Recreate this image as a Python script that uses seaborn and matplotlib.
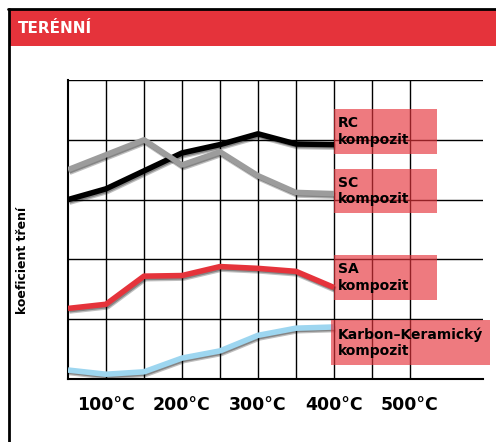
import numpy as np
import pandas as pd
import matplotlib
matplotlib.use("Agg")
import matplotlib.pyplot as plt
import matplotlib.patheffects as pe
from matplotlib.patches import Rectangle
from matplotlib.lines import Line2D
import seaborn as sns

# ---------------- data ----------------
temperature = [50, 100, 150, 200, 250, 300, 350, 400]
rc_values = [3.00, 3.18, 3.48, 3.78, 3.92, 4.10, 3.93, 3.92]
sc_values = [3.50, 3.75, 4.00, 3.58, 3.80, 3.40, 3.12, 3.10]
sa_values = [1.18, 1.25, 1.72, 1.73, 1.88, 1.85, 1.80, 1.53]
kk_values = [0.15, 0.08, 0.12, 0.35, 0.47, 0.73, 0.85, 0.87]
series_names = ["RC\nkompozit", "SC\nkompozit", "SA\nkompozit", "Karbon–Keramický\nkompozit"]
series_colors = ["#000000", "#9c9c9c", "#e5333b", "#9dd6f0"]
tick_labels = ["100°C", "200°C", "300°C", "400°C", "500°C"]
title = "TERÉNNÍ"
ylabel = "koeficient tření"

# --------------- layout ---------------
W, H = 496, 442
label_box_bottom = [3.77, 2.77, 1.32, 0.23]   # data units
label_box_height = 0.75
label_box_left = [400, 400, 400, 396]
label_box_right = [536, 536, 536, 605]

df = pd.DataFrame({
    "temp": temperature * 4,
    "value": rc_values + sc_values + sa_values + kk_values,
    "series": sum([[n] * len(temperature) for n in series_names], []),
})

sns.set_style("white")
plt.rcParams["font.family"] = ["DejaVu Sans"]
plt.rcParams["text.color"] = "black"
plt.rcParams["xtick.color"] = "black"
plt.rcParams["axes.labelcolor"] = "black"

fig = plt.figure(figsize=(W / 100, H / 100), dpi=100)
ax = fig.add_axes([68 / W, (H - 379) / H, (483 - 68) / W, (379 - 80) / H])

sns.lineplot(data=df, x="temp", y="value", hue="series", palette=series_colors,
             hue_order=series_names, sort=False, lw=4, legend=False, ax=ax,
             zorder=3)
for line in ax.get_lines():
    line.set_solid_capstyle("butt")
    line.set_solid_joinstyle("round")
    line.set_path_effects([
        pe.SimpleLineShadow(offset=(1.0, -1.6), shadow_color="black", alpha=0.25, linewidth=4.5),
        pe.SimpleLineShadow(offset=(0.8, -1.2), shadow_color="black", alpha=0.3, linewidth=3.5),
        pe.Normal()])

ax.set_xlim(50, 50 + (483 - 68) / 38 * 50)
ax.set_ylim(0, 5)
ax.set_xticks([100, 200, 300, 400, 500])
ax.set_xticklabels(tick_labels, fontsize=12.5, fontweight="bold", color="black")
ax.set_xticks([150, 250, 350, 450], minor=True)
ax.set_yticks([0, 1, 2, 3, 4, 5])
ax.set_yticklabels([])
ax.tick_params(axis="x", which="both", length=6.5, width=1.0, color="black", pad=6, direction="out")
ax.tick_params(axis="y", length=0)
ax.grid(True, which="both", color="black", lw=1.0)
ax.set_axisbelow(True)
for s in ["top", "right"]:
    ax.spines[s].set_visible(False)
for s in ["left", "bottom"]:
    ax.spines[s].set_color("black")
    ax.spines[s].set_linewidth(1.5)
    ax.spines[s].set_zorder(2.5)

ax.set_xlabel("")
ax.set_ylabel(ylabel, fontsize=9, fontweight="bold", color="black")
ax.yaxis.set_label_coords((29 - 68) / 415, (379 - 260) / 299)

# label boxes
dx_text = 5.3
for name, b, l, r in zip(series_names, label_box_bottom, label_box_left, label_box_right):
    ax.add_patch(Rectangle((l, b), r - l, label_box_height, facecolor="#e5333b", alpha=0.65,
                           edgecolor="none", zorder=4, clip_on=False))
    ax.text(400 + dx_text, b + label_box_height / 2, name, ha="left", va="center",
            fontsize=10, fontweight="bold", color="black", linespacing=1.25, zorder=5,
            clip_on=False)

# header band and frame
fig.patches.append(Rectangle((10 / W, 1 - 45.5 / H), 1 - 10 / W, 35.5 / H,
                             transform=fig.transFigure, facecolor="#e5333b", edgecolor="none"))
fig.text(18 / W, 1 - 33 / H, title, color="white", fontsize=11, fontweight="bold",
         ha="left", va="baseline")
fig.add_artist(Line2D([8 / W, 1], [1 - 9 / H, 1 - 9 / H], transform=fig.transFigure,
                      color="black", lw=2))
fig.add_artist(Line2D([8.5 / W, 8.5 / W], [0, 1 - 9 / H], transform=fig.transFigure,
                      color="black", lw=2))

fig.savefig("out.png", dpi=100)
